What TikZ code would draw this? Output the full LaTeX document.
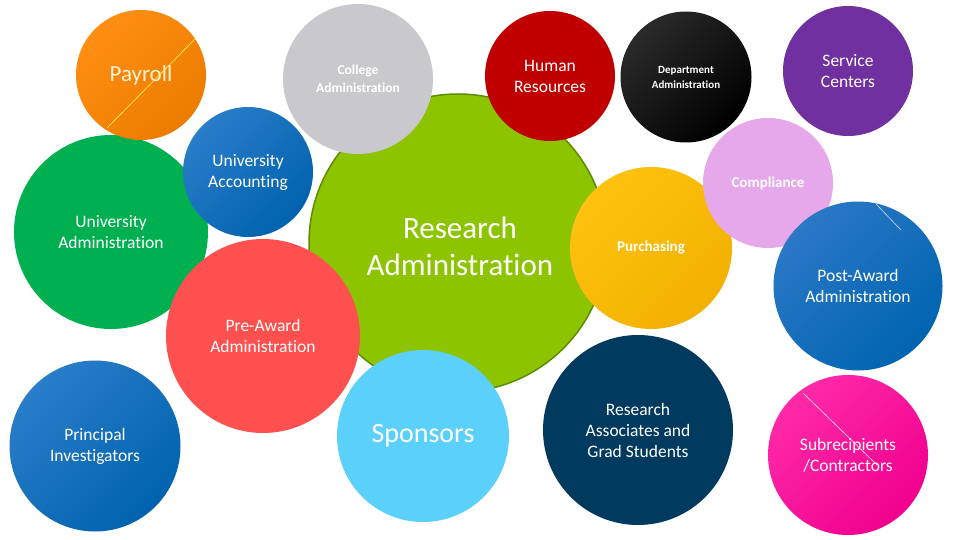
\documentclass[tikz,border=0pt]{standalone}
\usepackage{fontspec}
\setmainfont{Carlito}[Ligatures={NoCommon}]
\definecolor{cPayA}{HTML}{FF8E12}
\definecolor{cPayB}{HTML}{EC7C00}
\definecolor{cGray}{HTML}{C8C8CD}
\definecolor{cAccA}{HTML}{2A7DC8}
\definecolor{cAccB}{HTML}{0062AE}
\definecolor{cUAdm}{HTML}{00B050}
\definecolor{cRes}{HTML}{8CC400}
\definecolor{cResEdge}{HTML}{5E8C00}
\definecolor{cHR}{HTML}{C00000}
\definecolor{cDepA}{HTML}{2A2A2A}
\definecolor{cDepB}{HTML}{000000}
\definecolor{cServ}{HTML}{7030A0}
\definecolor{cComp}{HTML}{E6A8EA}
\definecolor{cPurA}{HTML}{FFC20E}
\definecolor{cPurB}{HTML}{F2B000}
\definecolor{cPostA}{HTML}{2A78C6}
\definecolor{cPostB}{HTML}{0064B0}
\definecolor{cPre}{HTML}{FF5050}
\definecolor{cSpon}{HTML}{5BD0FB}
\definecolor{cRA}{HTML}{003A5E}
\definecolor{cSubA}{HTML}{FF2AA8}
\definecolor{cSubB}{HTML}{F0008E}
\definecolor{cPayText}{HTML}{FFF3D6}
\tikzset{
  ball/.style={circle, inner sep=0pt, text=white, align=center, font=\fontsize{17.5}{21}\selectfont},
  grad/.style 2 args={top color=#1, bottom color=#2, shading angle=45},
  stray/.style={line width=0.6pt}
}
\begin{document}
\begin{tikzpicture}[x=1pt,y=-1pt]
\useasboundingbox (0,0) rectangle (960,540);
\fill[white] (0,0) rectangle (960,540);
% circles, back to front
\node[ball, fill=cUAdm, minimum size=194pt] (uadm) at (111,232) {University\\Administration};
\node[ball, grad={cPayA}{cPayB}, minimum size=130pt, text=cPayText, font=\fontsize{23}{27}\selectfont] (pay) at (141,75) {Payroll};
\node[ball, fill=cRes, draw=cResEdge, line width=1.5pt, minimum size=298pt, font=\fontsize{31}{37}\selectfont] (res) at (458,243) {};
\node[text=white, align=center, font=\fontsize{31}{37}\selectfont] (restext) at (460,246) {Research\\Administration};
\node[ball, fill=cGray, minimum size=150pt, font=\bfseries\fontsize{13.5}{18}\selectfont] (coll) at (358,79) {College\\Administration};
\node[ball, grad={cAccA}{cAccB}, minimum size=130pt] (acc) at (248,172) {University\\Accounting};
\node[ball, fill=cPre, minimum size=194pt] (pre) at (263,336) {Pre-Award\\Administration};
\node[ball, fill=cHR, minimum size=130pt] (hr) at (550,76) {Human\\Resources};
\node[ball, grad={cDepA}{cDepB}, minimum size=131pt, font=\bfseries\fontsize{11}{15}\selectfont] (dep) at (686,77) {Department\\Administration};
\node[ball, fill=cServ, minimum size=130pt] (serv) at (848,71) {Service\\Centers};
\node[ball, grad={cPurA}{cPurB}, minimum size=162pt, font=\bfseries\fontsize{15}{18}\selectfont] (pur) at (651,248) {Purchasing};
\node[ball, fill=cComp, minimum size=130pt, font=\bfseries\fontsize{15}{18}\selectfont] (comp) at (768,183) {Compliance};
\node[ball, grad={cPostA}{cPostB}, minimum size=169pt] (post) at (858,286) {Post-Award\\Administration};
\node[ball, fill=cSpon, minimum size=172pt, font=\fontsize{28}{32}\selectfont] (spon) at (423,436) {Sponsors};
\node[ball, fill=cRA, minimum size=190pt] (ra) at (638,430) {Research\\Associates and\\Grad Students};
\node[ball, grad={cAccA}{cAccB}, minimum size=171pt] (pi) at (95,446) {Principal\\Investigators};
\node[ball, grad={cSubA}{cSubB}, minimum size=160pt] (sub) at (848,455) {Subrecipients\\/Contractors};
% stray thin lines
\coordinate (payA) at (196,38);
\coordinate (payB) at (107,128);
\coordinate (postA) at (876,204);
\coordinate (postB) at (901,230);
\coordinate (subA) at (803,393);
\coordinate (subB) at (877,465);
\draw[stray, draw=yellow!60!white] (payA) -- (payB);
\draw[stray, draw=blue!15!white] (postA) -- (postB);
\draw[stray, draw=pink!40!white] (subA) -- (subB);
\end{tikzpicture}
\end{document}
